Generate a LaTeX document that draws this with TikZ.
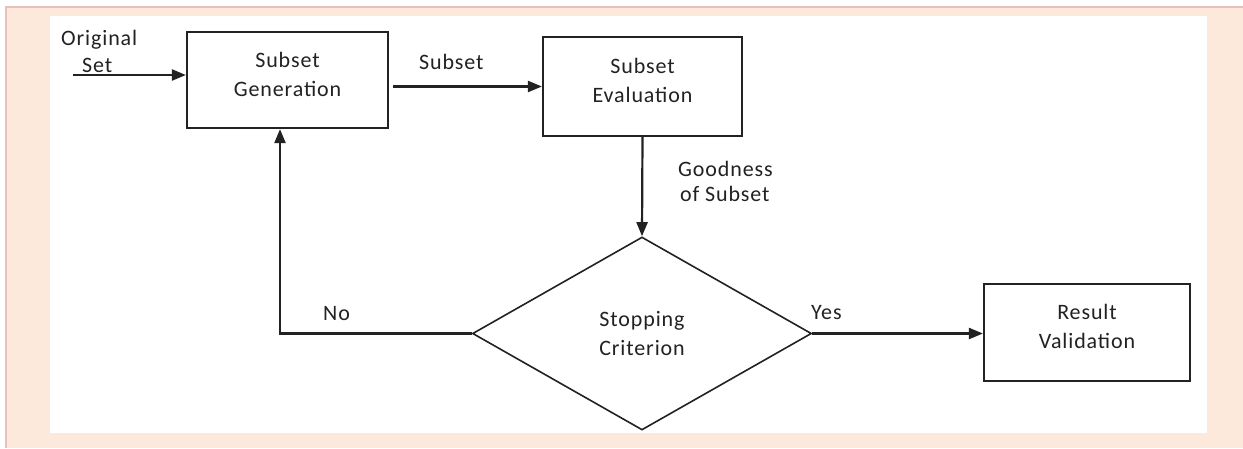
\documentclass[tikz,border=0pt]{standalone}
\usepackage{fontspec}
\newfontfamily\lblfont[LetterSpace=4]{Carlito}
\usetikzlibrary{arrows.meta,shapes.geometric}
\definecolor{peach}{HTML}{FCE9DC}
\definecolor{pinkline}{HTML}{E8C2BA}
\definecolor{ink}{HTML}{222222}
\tikzset{
  lbl/.style={font=\lblfont\fontsize{22}{29}\selectfont, text=ink, inner sep=0pt},
  procbox/.style={draw=ink, line width=2.2pt, lbl, align=center, text depth=12pt},
  decbox/.style={draw=ink, line width=1.6pt, diamond, lbl, align=center, inner sep=0pt, shape aspect=1.76},
  conn/.style={draw=ink, line width=2.2pt, -{Triangle[length=14pt,width=11pt]}},
}
\begin{document}
\begin{tikzpicture}[x=1pt,y=-1pt]
\useasboundingbox (0,0) rectangle (1243,448);
\fill[white] (0,0) rectangle (1243,448);
\fill[peach] (6,7) rectangle (1243,448);
\draw[pinkline, line width=1.5pt] (6,448) -- (6,7) -- (1243,7);
\fill[white] (50,16) rectangle (1207,433);

\node[procbox, minimum width=201pt, minimum height=96pt] (gen) at (287.5,80) {Subset\\Generation};
\node[procbox, minimum width=199pt, minimum height=99pt] (eval) at (642.5,86.5) {Subset\\Evaluation};
\node[procbox, minimum width=206pt, minimum height=97pt] (res) at (1087,332.5) {Result\\Validation};
\node[decbox, minimum width=339pt, minimum height=193pt] (stop) at (642,333.5) {Stopping\\Criterion};

\coordinate (orig) at (73,75);
\coordinate (nocorner) at (280,333.5);

\draw[conn] (orig) -- (orig -| gen.west);
\draw[conn] ([xshift=4pt]gen.east |- eval.west) -- (eval.west);
\draw[conn] (eval.south) -- (stop.north);
\draw[conn] (stop.east) -- (stop.east -| res.west);
\draw[conn] (stop.west) -- (nocorner) -- (nocorner |- gen.south);

\node[lbl, anchor=base west] (tOrig) at (61,45) {Original};
\node[lbl, anchor=base west] (tSet) at (82,72) {Set};
\node[lbl, anchor=base west] (tSub) at (419,69) {Subset};
\node[lbl, anchor=base west] (tGood) at (678,176) {Goodness};
\node[lbl, anchor=base west] (tOf) at (680,201) {of Subset};
\node[lbl, anchor=base west] (tNo) at (323,320) {No};
\node[lbl, anchor=base west] (tYes) at (811,319) {Yes};
\end{tikzpicture}
\end{document}
